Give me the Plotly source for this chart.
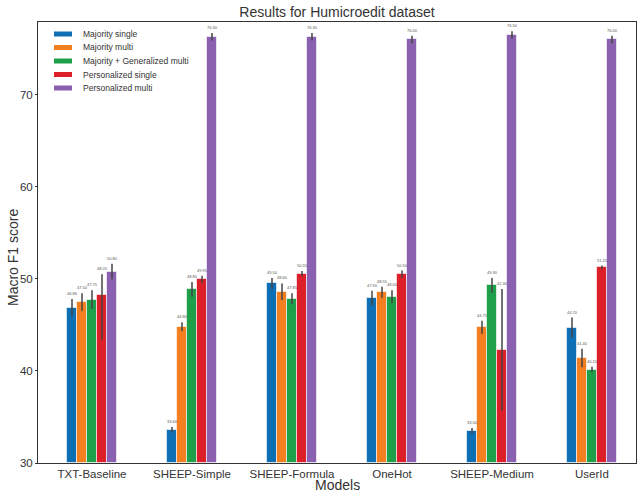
import plotly.graph_objects as go

models = ["TXT-Baseline", "SHEEP-Simple", "SHEEP-Formula", "OneHot", "SHEEP-Medium", "UserId"]
series_names = ["Majority single", "Majority multi", "Majority + Generalized multi",
                "Personalized single", "Personalized multi"]
majority_single = [46.86, 33.60, 49.50, 47.90, 33.50, 44.70]
majority_multi = [47.50, 44.80, 48.60, 48.55, 44.75, 41.40]
majority_gen_multi = [47.75, 48.85, 47.85, 48.05, 49.30, 40.15]
personalized_single = [48.20, 49.95, 50.55, 50.50, 42.30, 51.25]
personalized_multi = [50.80, 76.30, 76.30, 76.00, 76.50, 76.00]

err_majority_single = [0.95, 0.3, 0.6, 0.8, 0.3, 1.1]
err_majority_multi = [0.95, 0.5, 0.9, 0.6, 0.7, 1.0]
err_majority_gen_multi = [1.0, 0.8, 0.6, 0.7, 0.8, 0.3]
err_personalized_single = [2.3, 0.4, 0.3, 0.4, 6.6, 0.2]
err_personalized_single_minus = [4.8, 0.4, 0.3, 0.4, 6.6, 0.2]
err_personalized_multi = [0.85, 0.4, 0.4, 0.4, 0.4, 0.4]

colors = ["#0f6fb4", "#f47f20", "#1ea04a", "#dc1f29", "#8b60b0"]

values = [majority_single, majority_multi, majority_gen_multi, personalized_single, personalized_multi]
errors = [err_majority_single, err_majority_multi, err_majority_gen_multi,
          err_personalized_single, err_personalized_multi]
errors_minus = [err_majority_single, err_majority_multi, err_majority_gen_multi,
                err_personalized_single_minus, err_personalized_multi]

fig = go.Figure()
width = 0.1
offsets = [-0.2, -0.1, 0.0, 0.1, 0.2]
xs = list(range(len(models)))
annotations = []
shapes = []
for i, name in enumerate(series_names):
    fig.add_trace(go.Bar(
        x=xs, y=[v - 30 for v in values[i]], base=30, name=name,
        width=width, offset=offsets[i] - width / 2, showlegend=False,
        marker=dict(color=colors[i], line=dict(color="rgba(255,255,255,0.6)", width=1)),
        error_y=dict(type="data", symmetric=False, array=errors[i], arrayminus=errors_minus[i],
                     visible=True, color="#444444", thickness=1.5, width=0),
    ))
    for j, v in enumerate(values[i]):
        annotations.append(dict(
            x=xs[j] + offsets[i], y=v + errors[i][j], text=f"{v:.2f}",
            xref="x", yref="y", showarrow=False, yanchor="bottom", yshift=1,
            font=dict(size=4, color="#555555", family="Liberation Sans, Arial"),
        ))
    # legend entry (compact, like the reference)
    ypix = 34 + i * 13.5
    shapes.append(dict(type="rect", xref="paper", yref="paper",
                       x0=(54 - 38) / 598, x1=(72 - 38) / 598,
                       y0=(463 - ypix - 2.5) / 441, y1=(463 - ypix + 2.5) / 441,
                       fillcolor=colors[i], line=dict(width=0)))
    annotations.append(dict(x=(81 - 38) / 598, y=(463 - ypix) / 441, xref="paper", yref="paper",
                            text=name, showarrow=False, xanchor="left", yanchor="middle",
                            font=dict(size=8.5, color="#333333", family="Liberation Sans, Arial")))

annotations.append(dict(x=0.5, y=-(485 - 463) / 441, xref="paper", yref="paper",
                        text="Models", showarrow=False, xanchor="center", yanchor="middle",
                        font=dict(size=14, color="#333333", family="Liberation Sans, Arial")))
annotations.append(dict(x=-(38 - 13) / 598, y=(463 - 258) / 441, xref="paper", yref="paper",
                        text="Macro F1 score", showarrow=False, xanchor="center", yanchor="middle",
                        textangle=-90,
                        font=dict(size=14, color="#333333", family="Liberation Sans, Arial")))

fig.update_layout(
    width=637, height=493,
    margin=dict(l=38, r=1, t=22, b=30, autoexpand=False),
    paper_bgcolor="white", plot_bgcolor="white",
    barmode="overlay",
    title=dict(text="Results for Humicroedit dataset", x=0.5, xanchor="center", xref="paper",
               y=1 - 12 / 493, yanchor="middle",
               font=dict(size=14, color="#333333", family="Liberation Sans, Arial")),
    font=dict(family="Liberation Sans, Arial", color="#333333"),
    showlegend=False,
    annotations=annotations,
    shapes=shapes,
    bargap=0,
)
fig.update_xaxes(
    tickmode="array", tickvals=xs, ticktext=models, automargin=False,
    range=[-0.54, 5.44], showline=True, linecolor="#333333", linewidth=1, mirror=True,
    showgrid=False, ticks="", tickfont=dict(size=11.5, color="#333333"),
)
fig.update_yaxes(
    range=[30, 77.9], tickvals=[30, 40, 50, 60, 70], automargin=False,
    showline=True, linecolor="#333333", linewidth=1, mirror=True,
    showgrid=False, ticks="outside", ticklen=2, tickcolor="#333333",
    tickfont=dict(size=11.5, color="#333333"), zeroline=False,
)

fig.write_html("out.html", config={"displayModeBar": False},
               post_script="document.body.style.margin='0px';")
